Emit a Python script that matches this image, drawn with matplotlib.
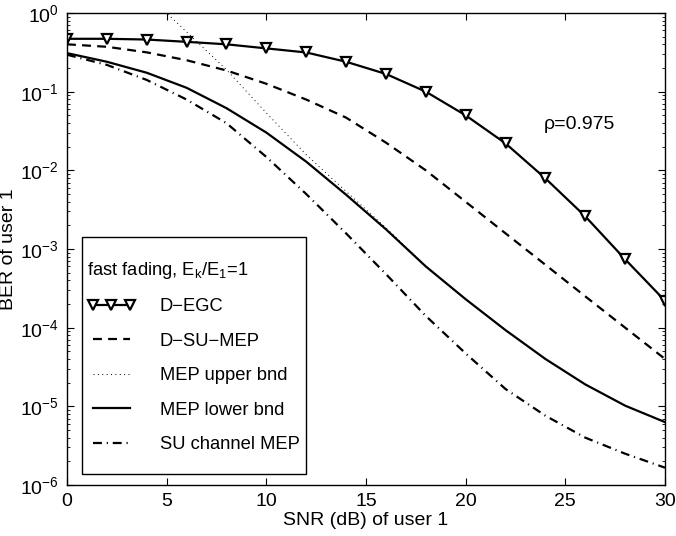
import matplotlib
matplotlib.use("Agg")
import matplotlib.pyplot as plt
import matplotlib.patches as mpatches

plt.rcParams['font.family'] = ['Liberation Sans', 'DejaVu Sans']
plt.rcParams['mathtext.default'] = 'regular'
plt.rcParams['font.size'] = 14

# SNR (dB) of user 1
snr = [0, 2, 4, 6, 8, 10, 12, 14, 16, 18, 20, 22, 24, 26, 28, 30]
snr_upper = [4, 6, 8, 10, 12, 14, 16, 18, 20, 22, 24, 26, 28, 30]

# BER of user 1
ber_degc = [0.47, 0.47, 0.46, 0.43, 0.40, 0.355, 0.315, 0.24, 0.168, 0.100,
            0.050, 0.022, 0.0079, 0.0026, 7.4e-4, 2.2e-4]
ber_dsumep = [0.40, 0.372, 0.316, 0.251, 0.186, 0.126, 0.0794, 0.0468, 0.0225, 0.010,
              0.00398, 0.00158, 6.3e-4, 2.5e-4, 1.0e-4, 4.0e-5]
ber_upper = [1.74, 0.575, 0.19, 0.0537, 0.0158, 0.0054, 0.00186, 6.0e-4,
             2.3e-4, 9.3e-5, 4.0e-5, 1.9e-5, 1.02e-5, 6.3e-6]
ber_lower = [0.309, 0.240, 0.174, 0.112, 0.0617, 0.0302, 0.0129, 0.0049, 0.00178, 6.0e-4,
             2.3e-4, 9.3e-5, 4.0e-5, 1.9e-5, 1.02e-5, 6.3e-6]
ber_su = [0.295, 0.219, 0.141, 0.0794, 0.0398, 0.0148, 0.0050, 0.00158, 4.8e-4, 1.41e-4,
          4.7e-5, 1.66e-5, 7.6e-6, 4.0e-6, 2.5e-6, 1.66e-6]

legend_title = "fast fading, E$_k$/E$_1$=1"
labels = ["D\u2212EGC", "D\u2212SU\u2212MEP", "MEP upper bnd", "MEP lower bnd", "SU channel MEP"]

fig = plt.figure(figsize=(6.76, 5.36), dpi=100)
ax = fig.add_axes([67 / 676, 1 - 485 / 536, 598 / 676, 472 / 536])

ax.semilogy(snr, ber_degc, color='k', lw=1.6, marker='v', ms=7, mfc='white',
            mec='k', mew=1.6, label=labels[0])
ax.semilogy(snr, ber_dsumep, color='k', lw=1.6, dashes=(4, 2.8), label=labels[1])
ax.semilogy(snr_upper, ber_upper, color='k', lw=0.7, dashes=(1, 3.5), label=labels[2])
ax.semilogy(snr, ber_lower, color='k', lw=1.6, label=labels[3])
ax.semilogy(snr, ber_su, color='k', lw=1.6, dashes=(4, 2.2, 0.5, 2.2), label=labels[4])

ax.set_xlim(0, 30)
ax.set_ylim(1e-6, 1)
ax.set_xticks([0, 5, 10, 15, 20, 25, 30])
ax.set_yticks([1e-6, 1e-5, 1e-4, 1e-3, 1e-2, 1e-1, 1])
ax.tick_params(which='both', direction='in', top=True, right=True)
ax.tick_params(which='major', length=5, width=0.8, pad=6)
ax.tick_params(which='minor', length=2.5, width=0.6)
for sp in ax.spines.values():
    sp.set_linewidth(1.0)

ax.set_xlabel("SNR (dB) of user 1", labelpad=1)
ax.set_ylabel("BER of user 1", labelpad=2)

ax.text(25.7, 0.038, "\u03c1=0.975", ha='center', va='center')

# legend box drawn by hand, contents from ax.legend
ax.add_patch(mpatches.Rectangle((0.025, 0.023), 0.375, 0.502, transform=ax.transAxes,
                                fill=True, facecolor='white', edgecolor='k', lw=1.0,
                                zorder=4))
leg = ax.legend(title=legend_title, loc='upper left', bbox_to_anchor=(0.0335, 0.4767),
                borderaxespad=0, borderpad=0, frameon=False, numpoints=3,
                handlelength=2.62, handletextpad=1.36, labelspacing=0.95,
                alignment='left', fontsize=13.2, title_fontsize=13.2)
leg.set_zorder(5)

fig.savefig("out.png", dpi=100)
